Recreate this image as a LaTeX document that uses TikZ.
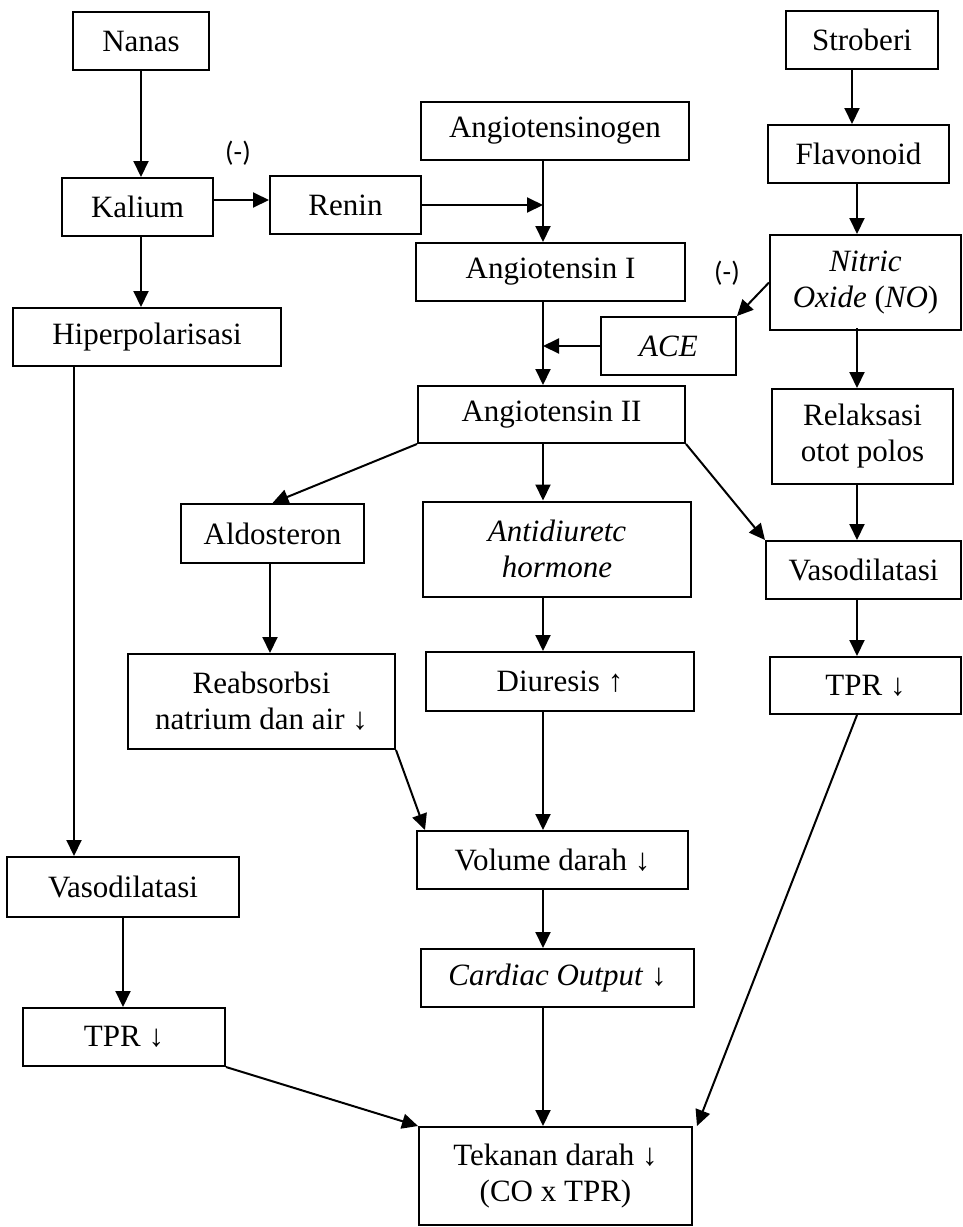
\documentclass[tikz,border=0pt]{standalone}
\usepackage{fontspec}
\setmainfont{Liberation Serif}
\newfontfamily\calibri{Carlito}
\usetikzlibrary{arrows.meta}
\tikzset{
  blok/.style={draw, rectangle, line width=2pt, align=center, inner sep=0pt,
    minimum width=#1pt, minimum height=58pt, font=\fontsize{31}{36}\selectfont},
  tinggi/.style={minimum height=95pt},
  pijl/.style={line width=2pt, -{Triangle[length=16pt,width=15pt]}},
  min/.style={font=\calibri\fontsize{28}{30}\selectfont}
}

\begin{document}
\begin{tikzpicture}[x=1pt,y=-1pt]
		\useasboundingbox (0,0) rectangle (962,1227);
		
		% spines
		\coordinate (lspine) at (74,0);
		\coordinate (spine) at (543,0);
		\coordinate (rspine) at (857,0);
		
		% left column
		\node[blok=136] (nanas) at (141,41) {Nanas};
		\node[blok=151] (kalium) at (137.5,207) {Kalium};
		\node[blok=151] (renin) at (345.5,205) {Renin};
		\node[blok=268] (hiper) at (147,337) {Hiperpolarisasi};
		\node[blok=232, minimum height=60pt] (vasoL) at (123,887) {Vasodilatasi};
		\node[blok=202] (tprL) at (124,1037) {TPR ↓};
		
		% middle column
		\node[blok=268] (angtsgn) at (555,131) {Angiotensinogen};
		\node[blok=269] (angI) at (550.5,272) {Angiotensin I};
		\node[blok=135] (ace) at (668.5,346) {\textit{ACE}};
		\node[blok=267, minimum height=57pt] (angII) at (551.5,414.5) {Angiotensin II};
		\node[blok=183, minimum height=59pt] (aldo) at (272.5,533.5) {Aldosteron};
		\node[blok=268, tinggi] (adh) at (557,549) {\textit{Antidiuretc}\\\textit{hormone}};
		\node[blok=267, tinggi] (reabs) at (261.5,701.5) {Reabsorbsi\\natrium dan air ↓};
		\node[blok=268, minimum height=59pt] (diur) at (560,681.5) {Diuresis ↑};
		\node[blok=271] (volume) at (552.5,860) {Volume darah ↓};
		\node[blok=273] (co) at (557.5,978) {\textit{Cardiac Output} ↓};
		\node[blok=273, minimum height=98pt] (tekanan) at (555.5,1176) {Tekanan darah ↓\\(CO x TPR)};
		
		% right column
		\node[blok=152] (stroberi) at (862,40) {Stroberi};
		\node[blok=181] (flavo) at (858.5,154) {Flavonoid};
		\node[blok=191, tinggi] (no) at (865.5,282.5) {\textit{Nitric}\\\textit{Oxide} (\textit{NO})};
		\node[blok=181, tinggi] (relaks) at (862.5,436.5) {Relaksasi\\otot polos};
		\node[blok=195] (vasoR) at (863.5,570) {Vasodilatasi};
		\node[blok=191, minimum height=57pt] (tprR) at (865.5,685.5) {TPR ↓};
		
		\node[min] (inhib1) at (238,153) {(-)};
		\node[min] (inhib2) at (727,273) {(-)};
		
		% arrows left
		\draw[pijl] (nanas.south) to (nanas.south |- kalium.north);
		\draw[pijl] (kalium.south -| nanas.south) to (nanas.south |- hiper.north);
		\draw[pijl] (kalium.east |- 0,200) to (renin.west |- 0,200);
		\draw[pijl] (hiper.south -| lspine) to (vasoL.north -| lspine);
		\draw[pijl] (vasoL.south) to (vasoL.south |- tprL.north);
		\draw[pijl] (tprL.south east) to (tekanan.north west);
		
		% arrows middle
		\draw[pijl] (renin.east) to (renin.east -| spine);
		\draw[pijl] (angtsgn.south -| spine) to (angI.north -| spine);
		\draw[pijl] (angI.south -| spine) to (angII.north -| spine);
		\draw[pijl] (ace.west) to (ace.west -| spine);
		\draw[pijl] (angII.south west) to (aldo.north);
		\draw[pijl] (angII.south -| spine) to (adh.north -| spine);
		\draw[pijl] (angII.south east) to (vasoR.north west);
		\draw[pijl] (aldo.south -| 270,0) to (reabs.north -| 270,0);
		\draw[pijl] (adh.south -| spine) to (diur.north -| spine);
		\draw[pijl] (reabs.south east) to ([xshift=9pt]volume.north west);
		\draw[pijl] (diur.south -| spine) to (volume.north -| spine);
		\draw[pijl] (volume.south -| spine) to (co.north -| spine);
		\draw[pijl] (co.south -| spine) to (tekanan.north -| spine);
		
		% arrows right
		\draw[pijl] (stroberi.south -| 852,0) to (flavo.north -| 852,0);
		\draw[pijl] (flavo.south -| rspine) to (no.north -| rspine);
		\draw[pijl] (no.west) to (ace.north east);
		\draw[pijl] ([yshift=3pt]no.south -| rspine) to (relaks.north -| rspine);
		\draw[pijl] (relaks.south -| rspine) to (vasoR.north -| rspine);
		\draw[pijl] (vasoR.south -| rspine) to (tprR.north -| rspine);
		\draw[pijl] (tprR.south -| rspine) to ([xshift=4pt]tekanan.north east);
	\end{tikzpicture}
\end{document}
